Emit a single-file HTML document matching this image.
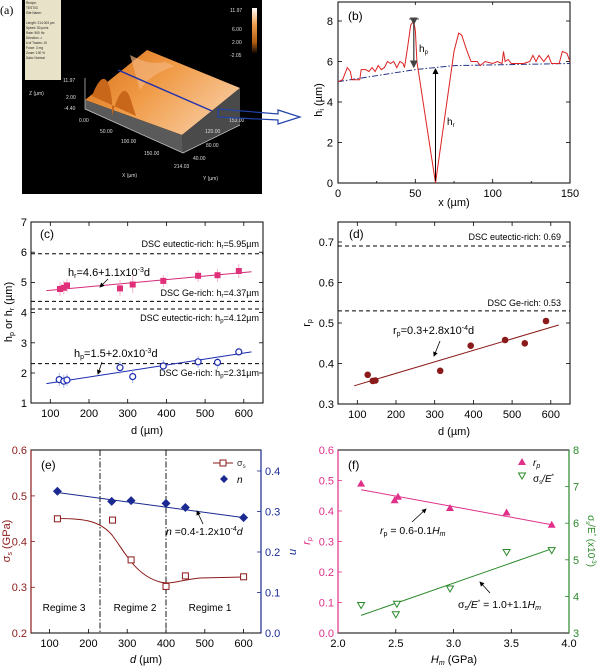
<!DOCTYPE html>
<html><head><meta charset="utf-8"><style>
body{margin:0;background:#fff}
svg{display:block;font-family:"Liberation Sans",sans-serif}
</style></head><body>
<svg width="600" height="668" viewBox="0 0 600 668" xmlns="http://www.w3.org/2000/svg">
<defs>
<linearGradient id="cb" x1="0" y1="0" x2="0" y2="1"><stop offset="0" stop-color="#fff"/><stop offset="0.35" stop-color="#f0a050"/><stop offset="0.75" stop-color="#b05a10"/><stop offset="1" stop-color="#000"/></linearGradient>
<linearGradient id="surf" x1="0" y1="0" x2="1" y2="0.6"><stop offset="0" stop-color="#d86e18"/><stop offset="0.5" stop-color="#f09a45"/><stop offset="1" stop-color="#f8c89a"/></linearGradient>
<marker id="ah" markerWidth="6" markerHeight="6" refX="5" refY="3" orient="auto"><path d="M0,0 L6,3 L0,6 z" fill="#000"/></marker>
<marker id="ahg" markerWidth="6" markerHeight="6" refX="5" refY="3" orient="auto"><path d="M0,0 L6,3 L0,6 z" fill="#444"/></marker>
</defs>

<!-- Panel a -->
<text x="0" y="14" font-family="Liberation Serif" font-size="12">(a)</text>
<rect x="22" y="0" width="240" height="194" fill="#000"/>
<rect x="25" y="0" width="36" height="80" fill="#e8e2c8"/>
<g font-size="3.2" fill="#222">
<text x="26" y="4">Recipe:</text><text x="26" y="9">TEST03</text><text x="26" y="14">Site Name:</text>
<text x="26" y="24">Length: 214.003 µm</text><text x="26" y="29">Speed: 50 µm/s</text><text x="26" y="34">Rate: 500 Hz</text>
<text x="26" y="39">Direction -&gt;</text><text x="26" y="44"># of Traces: 10</text><text x="26" y="49">Force: 3 mg</text>
<text x="26" y="54">Zoom: 100 %</text><text x="26" y="59">Data: Normal</text></g>
<rect x="252" y="8" width="5" height="46" fill="url(#cb)"/>
<g font-size="5" fill="#ddd"><text x="230" y="12">11.97</text><text x="232" y="31">6.00</text><text x="232" y="44">2.00</text><text x="230" y="57">-2.05</text></g>
<polygon points="85,100 147,50 240,88 182,135" fill="url(#surf)"/>
<polygon points="182,135 240,88 240,125 183,153" fill="#4a4a4a"/>
<polygon points="85,100 182,135 183,153 85,109" fill="#5a5a5a"/>
<path d="M92,96 C100,75 108,70 112,100 L112,116 C118,92 126,80 132,104 L136,116 Z" fill="#c8661a"/>
<path d="M130,55 C140,60 150,65 165,62 L175,66 C160,72 150,75 140,90 Z" fill="#f3b47a" opacity="0.7"/>
<line x1="118" y1="70" x2="212" y2="111" stroke="#2233aa" stroke-width="1.5"/>
<g stroke="#ccc" stroke-width="0.7" fill="none"><polyline points="85,78 85,109 183,153 240,125"/></g>
<g font-size="5" fill="#ddd">
<text x="63" y="82">11.97</text><text x="66" y="99">2.00</text><text x="64" y="110">-4.40</text>
<text x="29" y="95">Z (µm)</text><text x="79" y="122">0.00</text><text x="100" y="133">50.00</text>
<text x="121" y="143">100.00</text><text x="144" y="155">150.00</text><text x="174" y="168">214.03</text>
<text x="122" y="177">X (µm)</text><text x="203" y="180">Y (µm)</text>
<text x="229" y="122">153.00</text><text x="205" y="133">120.00</text><text x="206" y="147">80.00</text><text x="193" y="160">40.00</text></g>
<polygon points="218,109 278,114 278,110 300,117 278,124 278,120 218,117" fill="none" stroke="#2244aa" stroke-width="1.2"/>

<!-- Panel b -->
<rect x="338" y="2" width="232" height="181" fill="none" stroke="#000" stroke-width="1"/>
<g stroke="#000" stroke-width="0.8">
<line x1="338" y1="183" x2="338" y2="179"/><line x1="415.3" y1="183" x2="415.3" y2="179"/><line x1="492.7" y1="183" x2="492.7" y2="179"/><line x1="570" y1="183" x2="570" y2="179"/>
<line x1="376.7" y1="183" x2="376.7" y2="181"/><line x1="454" y1="183" x2="454" y2="181"/><line x1="531.3" y1="183" x2="531.3" y2="181"/>
<line x1="415.3" y1="2" x2="415.3" y2="5"/><line x1="492.7" y1="2" x2="492.7" y2="5"/>
<line x1="338" y1="142.5" x2="342" y2="142.5"/><line x1="338" y1="102" x2="342" y2="102"/><line x1="338" y1="61.5" x2="342" y2="61.5"/><line x1="338" y1="21" x2="342" y2="21"/>
<line x1="570" y1="142.5" x2="566" y2="142.5"/><line x1="570" y1="102" x2="566" y2="102"/><line x1="570" y1="61.5" x2="566" y2="61.5"/><line x1="570" y1="21" x2="566" y2="21"/>
</g>
<g font-size="11" text-anchor="middle"><text x="338" y="197">0</text><text x="415.3" y="197">50</text><text x="492.7" y="197">100</text><text x="570" y="197">150</text>
<text x="454" y="206">x (µm)</text></g>
<g font-size="11" text-anchor="end"><text x="333" y="187">0</text><text x="333" y="146.5">2</text><text x="333" y="106">4</text><text x="333" y="65.5">6</text><text x="333" y="25">8</text></g>
<text transform="translate(322,100) rotate(-90)" font-size="11" text-anchor="middle">h<tspan font-size="7" dy="2">i</tspan><tspan dy="-2"> (µm)</tspan></text>
<text x="348" y="20" font-size="12">(b)</text>
<polyline points="338,81.7 415.3,69.6 454,65.6 570,63.5" fill="none" stroke="#223388" stroke-width="1" stroke-dasharray="6,2,1.5,2"/>
<polyline fill="none" stroke="#dd2222" stroke-width="1" points="338,81.7 342.6,79.7 347.3,67.6 350.4,71.6 351.9,79.7 359.7,79.7 361.2,69.6 365.8,69.6 368.9,71.6 372,67.6 375.1,71.6 378.2,65.6 381.3,69.6 384.4,67.6 387.5,61.5 390.6,63.5 393.7,61.5 396.8,67.6 399.9,61.5 403,63.5 404.5,67.6 407.6,47.3 410.7,25.1 413.8,21 415.4,31.1 416.9,61.5 435.5,183 454,51.4 458.7,33.1 461.8,35.2 466.4,49.4 471,61.5 477.2,61.5 480.3,65.6 485,61.5 492.7,63.5 497.3,61.5 502,63.5 503.5,51.4 505.1,61.5 508.2,59.5 511.3,63.5 523.6,63.5 529.8,61.5 532.9,55.4 536,61.5 539.1,55.4 543.8,61.5 548.4,55.4 551.5,63.5 559.2,63.5 562.3,51.4 567,53.4 570,61.5"/>
<line x1="409" y1="19" x2="419" y2="19" stroke="#555" stroke-width="1"/>
<line x1="413.8" y1="24" x2="413.8" y2="67" stroke="#444" stroke-width="1.3" marker-start="url(#ahg)" marker-end="url(#ahg)"/>
<line x1="435.5" y1="181" x2="435.5" y2="69" stroke="#000" stroke-width="1" marker-end="url(#ah)"/>
<text x="419" y="52" font-size="10">h<tspan font-size="6" dy="2">p</tspan></text>
<text x="447" y="125" font-size="10">h<tspan font-size="6" dy="2">r</tspan></text>

<!-- Panel c -->
<rect x="31" y="222" width="232" height="181" fill="none" stroke="#000" stroke-width="1"/>
<g stroke="#000" stroke-width="0.8">
<line x1="50.3" y1="403" x2="50.3" y2="399"/><line x1="89" y1="403" x2="89" y2="399"/><line x1="127.7" y1="403" x2="127.7" y2="399"/><line x1="166.4" y1="403" x2="166.4" y2="399"/><line x1="205.1" y1="403" x2="205.1" y2="399"/><line x1="243.8" y1="403" x2="243.8" y2="399"/>
<line x1="50.3" y1="222" x2="50.3" y2="226"/><line x1="89" y1="222" x2="89" y2="226"/><line x1="127.7" y1="222" x2="127.7" y2="226"/><line x1="166.4" y1="222" x2="166.4" y2="226"/><line x1="205.1" y1="222" x2="205.1" y2="226"/><line x1="243.8" y1="222" x2="243.8" y2="226"/>
<line x1="31" y1="252.2" x2="35" y2="252.2"/><line x1="31" y1="282.4" x2="35" y2="282.4"/><line x1="31" y1="312.6" x2="35" y2="312.6"/><line x1="31" y1="342.8" x2="35" y2="342.8"/><line x1="31" y1="373" x2="35" y2="373"/>
<line x1="263" y1="252.2" x2="259" y2="252.2"/><line x1="263" y1="282.4" x2="259" y2="282.4"/><line x1="263" y1="312.6" x2="259" y2="312.6"/><line x1="263" y1="342.8" x2="259" y2="342.8"/><line x1="263" y1="373" x2="259" y2="373"/>
</g>
<g font-size="11" text-anchor="middle"><text x="50.3" y="417">100</text><text x="89" y="417">200</text><text x="127.7" y="417">300</text><text x="166.4" y="417">400</text><text x="205.1" y="417">500</text><text x="243.8" y="417">600</text>
<text x="147" y="434">d (µm)</text></g>
<g font-size="11" text-anchor="end"><text x="27" y="226">7</text><text x="27" y="256">6</text><text x="27" y="286">5</text><text x="27" y="316.5">4</text><text x="27" y="347">3</text><text x="27" y="377">2</text><text x="27" y="407">1</text></g>
<text transform="translate(12,312) rotate(-90)" font-size="11" text-anchor="middle">h<tspan font-size="7" dy="2">p</tspan><tspan dy="-2"> or h</tspan><tspan font-size="7" dy="2">r</tspan><tspan dy="-2"> (µm)</tspan></text>
<text x="40" y="238" font-size="12">(c)</text>
<g stroke="#000" stroke-width="1" stroke-dasharray="4,3">
<line x1="31" y1="253.7" x2="263" y2="253.7"/><line x1="31" y1="301.4" x2="263" y2="301.4"/><line x1="31" y1="309" x2="263" y2="309"/><line x1="31" y1="363.6" x2="263" y2="363.6"/></g>
<g font-size="9" text-anchor="end">
<text x="259" y="247">DSC eutectic-rich: h<tspan font-size="6" dy="1.5">r</tspan><tspan dy="-1.5">=5.95µm</tspan></text>
<text x="259" y="296">DSC Ge-rich: h<tspan font-size="6" dy="1.5">r</tspan><tspan dy="-1.5">=4.37µm</tspan></text>
<text x="259" y="321">DSC eutectic-rich: h<tspan font-size="6" dy="1.5">p</tspan><tspan dy="-1.5">=4.12µm</tspan></text>
<text x="259" y="376">DSC Ge-rich: h<tspan font-size="6" dy="1.5">p</tspan><tspan dy="-1.5">=2.31µm</tspan></text></g>
<line x1="46.4" y1="290.6" x2="251.5" y2="271.8" stroke="#d42a7a" stroke-width="1"/>
<line x1="46.4" y1="383.6" x2="251.5" y2="351.9" stroke="#1a2ab0" stroke-width="1"/>
<g stroke="#f0a0c0" stroke-width="0.8">
<line x1="60" y1="282" x2="60" y2="296"/><line x1="63.8" y1="281" x2="63.8" y2="294"/><line x1="67" y1="279" x2="67" y2="292"/><line x1="120" y1="280" x2="120" y2="296"/><line x1="132.7" y1="276" x2="132.7" y2="293"/><line x1="163.3" y1="275" x2="163.3" y2="287"/><line x1="198.1" y1="270" x2="198.1" y2="282"/><line x1="217.5" y1="269" x2="217.5" y2="282"/><line x1="238.8" y1="264" x2="238.8" y2="278"/></g>
<g fill="#e0307a">
<rect x="57" y="286" width="6" height="6"/><rect x="60.8" y="284.8" width="6" height="6"/><rect x="64" y="282.4" width="6" height="6"/><rect x="117" y="285.4" width="6" height="6"/><rect x="129.7" y="281.5" width="6" height="6"/><rect x="160.3" y="277.9" width="6" height="6"/><rect x="195.1" y="272.8" width="6" height="6"/><rect x="214.5" y="272.2" width="6" height="6"/><rect x="235.8" y="268" width="6" height="6"/></g>
<g stroke="#9aa8dd" stroke-width="0.8">
<line x1="59.2" y1="373" x2="59.2" y2="386"/><line x1="63.8" y1="375" x2="63.8" y2="388"/><line x1="67" y1="374" x2="67" y2="386"/><line x1="120" y1="361" x2="120" y2="374"/><line x1="132.7" y1="370" x2="132.7" y2="383"/><line x1="163.3" y1="360" x2="163.3" y2="372"/><line x1="198.1" y1="356" x2="198.1" y2="368"/><line x1="217.5" y1="356" x2="217.5" y2="369"/></g>
<g fill="#fff" stroke="#1a2ab0" stroke-width="1.2">
<circle cx="59.2" cy="379.6" r="3"/><circle cx="63.8" cy="381.2" r="3"/><circle cx="67" cy="380" r="3"/><circle cx="120" cy="367.6" r="3"/><circle cx="132.7" cy="376.6" r="3"/><circle cx="163.3" cy="366" r="3"/><circle cx="198.1" cy="361.8" r="3"/><circle cx="217.5" cy="362.4" r="3"/><circle cx="238.8" cy="351.9" r="3"/></g>
<text x="68" y="276" font-size="11">h<tspan font-size="7" dy="2">r</tspan><tspan dy="-2">=4.6+1.1x10</tspan><tspan font-size="7" dy="-4">-3</tspan><tspan dy="4">d</tspan></text>
<line x1="108" y1="279" x2="100" y2="287" stroke="#000" stroke-width="0.8" marker-end="url(#ah)"/>
<text x="74" y="357" font-size="11">h<tspan font-size="7" dy="2">p</tspan><tspan dy="-2">=1.5+2.0x10</tspan><tspan font-size="7" dy="-4">-3</tspan><tspan dy="4">d</tspan></text>
<line x1="102" y1="362" x2="98" y2="374" stroke="#000" stroke-width="0.8" marker-end="url(#ah)"/>

<!-- Panel d -->
<rect x="338" y="222" width="232" height="182" fill="none" stroke="#000" stroke-width="1"/>
<g stroke="#000" stroke-width="0.8">
<line x1="357.3" y1="404" x2="357.3" y2="400"/><line x1="396" y1="404" x2="396" y2="400"/><line x1="434.7" y1="404" x2="434.7" y2="400"/><line x1="473.4" y1="404" x2="473.4" y2="400"/><line x1="512.1" y1="404" x2="512.1" y2="400"/><line x1="550.8" y1="404" x2="550.8" y2="400"/>
<line x1="357.3" y1="222" x2="357.3" y2="226"/><line x1="396" y1="222" x2="396" y2="226"/><line x1="434.7" y1="222" x2="434.7" y2="226"/><line x1="473.4" y1="222" x2="473.4" y2="226"/><line x1="512.1" y1="222" x2="512.1" y2="226"/><line x1="550.8" y1="222" x2="550.8" y2="226"/>
<line x1="338" y1="363.5" x2="342" y2="363.5"/><line x1="338" y1="323" x2="342" y2="323"/><line x1="338" y1="282.5" x2="342" y2="282.5"/><line x1="338" y1="242" x2="342" y2="242"/>
<line x1="570" y1="363.5" x2="566" y2="363.5"/><line x1="570" y1="323" x2="566" y2="323"/><line x1="570" y1="282.5" x2="566" y2="282.5"/><line x1="570" y1="242" x2="566" y2="242"/>
</g>
<g font-size="11" text-anchor="middle"><text x="357.3" y="418">100</text><text x="396" y="418">200</text><text x="434.7" y="418">300</text><text x="473.4" y="418">400</text><text x="512.1" y="418">500</text><text x="550.8" y="418">600</text>
<text x="454" y="435">d (µm)</text></g>
<g font-size="11" text-anchor="end"><text x="334" y="408">0.3</text><text x="334" y="367.5">0.4</text><text x="334" y="327">0.5</text><text x="334" y="286.5">0.6</text><text x="334" y="246">0.7</text></g>
<text transform="translate(310,323) rotate(-90)" font-size="11" text-anchor="middle">r<tspan font-size="7" dy="2">p</tspan></text>
<text x="349" y="238" font-size="12">(d)</text>
<g stroke="#000" stroke-width="1" stroke-dasharray="4,3"><line x1="338" y1="246" x2="570" y2="246"/><line x1="338" y1="310.9" x2="570" y2="310.9"/></g>
<g font-size="9" text-anchor="end"><text x="561" y="240">DSC eutectic-rich: 0.69</text><text x="561" y="306">DSC Ge-rich: 0.53</text></g>
<line x1="354.1" y1="385.8" x2="558.7" y2="325" stroke="#8b1a1a" stroke-width="1"/>
<g fill="#8b1a1a">
<circle cx="367.7" cy="374.8" r="3.3"/><circle cx="372.7" cy="380.9" r="3.3"/><circle cx="375.4" cy="380.5" r="3.3"/><circle cx="440.2" cy="370.8" r="3.3"/><circle cx="470.7" cy="345.7" r="3.3"/><circle cx="505.1" cy="340" r="3.3"/><circle cx="524.8" cy="343.3" r="3.3"/><circle cx="546" cy="321" r="3.3"/></g>
<text x="393" y="334" font-size="11">r<tspan font-size="7" dy="2">p</tspan><tspan dy="-2">=0.3+2.8x10</tspan><tspan font-size="7" dy="-4">-4</tspan><tspan dy="4">d</tspan></text>
<line x1="440" y1="341" x2="434" y2="356" stroke="#000" stroke-width="0.8" marker-end="url(#ah)"/>

<!-- Panel e -->
<rect x="31" y="450" width="230" height="183" fill="none" stroke="#000" stroke-width="1"/>
<line x1="31" y1="450" x2="31" y2="633" stroke="#8b1a1a" stroke-width="1.2"/>
<line x1="261" y1="450" x2="261" y2="633" stroke="#1a2a90" stroke-width="1.2"/>
<g stroke="#000" stroke-width="0.8">
<line x1="49.6" y1="633" x2="49.6" y2="629"/><line x1="88.4" y1="633" x2="88.4" y2="629"/><line x1="127.2" y1="633" x2="127.2" y2="629"/><line x1="166" y1="633" x2="166" y2="629"/><line x1="204.8" y1="633" x2="204.8" y2="629"/><line x1="243.6" y1="633" x2="243.6" y2="629"/></g>
<g stroke="#8b1a1a" stroke-width="0.8"><line x1="31" y1="587.3" x2="35" y2="587.3"/><line x1="31" y1="541.6" x2="35" y2="541.6"/><line x1="31" y1="495.9" x2="35" y2="495.9"/></g>
<g stroke="#1a2a90" stroke-width="0.8"><line x1="261" y1="592.5" x2="257" y2="592.5"/><line x1="261" y1="552" x2="257" y2="552"/><line x1="261" y1="511.5" x2="257" y2="511.5"/><line x1="261" y1="471" x2="257" y2="471"/></g>
<g font-size="11" text-anchor="middle"><text x="49.6" y="647">100</text><text x="88.4" y="647">200</text><text x="127.2" y="647">300</text><text x="166" y="647">400</text><text x="204.8" y="647">500</text><text x="243.6" y="647">600</text>
<text x="146" y="663"><tspan font-style="italic">d</tspan> (µm)</text></g>
<g font-size="11" text-anchor="end" fill="#8b1a1a"><text x="27" y="637">0.2</text><text x="27" y="591">0.3</text><text x="27" y="545.5">0.4</text><text x="27" y="500">0.5</text><text x="27" y="454">0.6</text></g>
<g font-size="11" fill="#1a2a90"><text x="265" y="637">0.0</text><text x="265" y="596.5">0.1</text><text x="265" y="556">0.2</text><text x="265" y="515.5">0.3</text><text x="265" y="475">0.4</text></g>
<text transform="translate(10,541) rotate(-90)" font-size="11" text-anchor="middle" fill="#8b1a1a">σ<tspan font-size="7" dy="2">s</tspan><tspan dy="-2"> (GPa)</tspan></text>
<text transform="translate(290,552) rotate(90)" font-size="11" text-anchor="middle" fill="#1a2a90" font-style="italic">n</text>
<text x="41" y="469" font-size="12">(e)</text>
<g stroke="#000" stroke-width="0.9" stroke-dasharray="6,2,1.5,2"><line x1="100" y1="450" x2="100" y2="633"/><line x1="166" y1="450" x2="166" y2="633"/></g>
<g font-size="10" text-anchor="middle"><text x="64" y="611">Regime 3</text><text x="135" y="611">Regime 2</text><text x="210" y="611">Regime 1</text></g>
<path d="M57.4,518.5 C85,518.5 100,521 112,535 C125,552 135,575 160,582 C170,585 180,580 200,578 L243.6,577" fill="none" stroke="#8b1a1a" stroke-width="1"/>
<g fill="#fff" stroke="#8b1a1a" stroke-width="1"><rect x="54.4" y="515.8" width="6" height="6"/><rect x="109.5" y="517.1" width="6" height="6"/><rect x="128.1" y="556.9" width="6" height="6"/><rect x="163" y="583.4" width="6" height="6"/><rect x="182.4" y="572.9" width="6" height="6"/><rect x="240.6" y="573.8" width="6" height="6"/></g>
<line x1="57.4" y1="492.5" x2="243.6" y2="517.6" stroke="#1a2a90" stroke-width="1"/>
<g fill="#1a2a90"><path d="M57.4,486.8 l4.5,4.5 l-4.5,4.5 l-4.5,-4.5z"/><path d="M111.7,496.9 l4.5,4.5 l-4.5,4.5 l-4.5,-4.5z"/><path d="M131.1,496.1 l4.5,4.5 l-4.5,4.5 l-4.5,-4.5z"/><path d="M166,498.9 l4.5,4.5 l-4.5,4.5 l-4.5,-4.5z"/><path d="M185.4,503 l4.5,4.5 l-4.5,4.5 l-4.5,-4.5z"/><path d="M243.6,513.1 l4.5,4.5 l-4.5,4.5 l-4.5,-4.5z"/></g>
<line x1="213" y1="463" x2="233" y2="463" stroke="#8b1a1a" stroke-width="1"/><rect x="220" y="460" width="6" height="6" fill="#fff" stroke="#8b1a1a"/>
<text x="237" y="466" font-size="9" fill="#333">σ<tspan font-size="6" dy="2">s</tspan></text>
<path d="M224,475 l4,4 l-4,4 l-4,-4z" fill="#1a2a90"/><text x="237" y="483" font-size="10" font-style="italic">n</text>
<text x="166" y="535" font-size="10.5"><tspan font-style="italic">n</tspan> =0.4-1.2x10<tspan font-size="7" dy="-4">-4</tspan><tspan dy="4" font-style="italic">d</tspan></text>
<line x1="203" y1="524" x2="197" y2="511" stroke="#000" stroke-width="0.8" marker-end="url(#ah)"/>

<!-- Panel f -->
<rect x="338" y="450" width="231" height="183" fill="none" stroke="#000" stroke-width="1"/>
<line x1="338" y1="450" x2="338" y2="633" stroke="#e0308a" stroke-width="1.2"/>
<line x1="569" y1="450" x2="569" y2="633" stroke="#2a8a2a" stroke-width="1.2"/>
<g stroke="#000" stroke-width="0.8"><line x1="395.8" y1="633" x2="395.8" y2="629"/><line x1="453.5" y1="633" x2="453.5" y2="629"/><line x1="511.3" y1="633" x2="511.3" y2="629"/></g>
<g stroke="#e0308a" stroke-width="0.8"><line x1="338" y1="602.5" x2="342" y2="602.5"/><line x1="338" y1="572" x2="342" y2="572"/><line x1="338" y1="541.5" x2="342" y2="541.5"/><line x1="338" y1="511" x2="342" y2="511"/><line x1="338" y1="480.5" x2="342" y2="480.5"/></g>
<g stroke="#2a8a2a" stroke-width="0.8"><line x1="569" y1="596.4" x2="565" y2="596.4"/><line x1="569" y1="559.8" x2="565" y2="559.8"/><line x1="569" y1="523.2" x2="565" y2="523.2"/><line x1="569" y1="486.6" x2="565" y2="486.6"/></g>
<g font-size="11" text-anchor="middle"><text x="338" y="647">2.0</text><text x="395.8" y="647">2.5</text><text x="453.5" y="647">3.0</text><text x="511.3" y="647">3.5</text><text x="569" y="647">4.0</text>
<text x="454" y="663"><tspan font-style="italic">H</tspan><tspan font-size="7" dy="2" font-style="italic">m</tspan><tspan dy="-2"> (GPa)</tspan></text></g>
<g font-size="11" text-anchor="end" fill="#e0308a"><text x="334" y="637">0.0</text><text x="334" y="606.5">0.1</text><text x="334" y="576">0.2</text><text x="334" y="545.5">0.3</text><text x="334" y="515">0.4</text><text x="334" y="484.5">0.5</text><text x="334" y="454">0.6</text></g>
<g font-size="11" fill="#2a8a2a"><text x="573" y="637">3</text><text x="573" y="600.4">4</text><text x="573" y="563.8">5</text><text x="573" y="527.2">6</text><text x="573" y="490.6">7</text><text x="573" y="454">8</text></g>
<text transform="translate(310,541) rotate(-90)" font-size="11" text-anchor="middle" fill="#e0308a" font-style="italic">r<tspan font-size="7" dy="2">p</tspan></text>
<text transform="translate(588,541) rotate(90)" font-size="10" text-anchor="middle" fill="#2a8a2a">σ<tspan font-size="6" dy="2">s</tspan><tspan dy="-2">/E</tspan><tspan font-size="6" dy="-4">*</tspan><tspan dy="4"> (x10</tspan><tspan font-size="6" dy="-4">-3</tspan><tspan dy="4">)</tspan></text>
<text x="348" y="469" font-size="12">(f)</text>
<line x1="361.1" y1="489.7" x2="551.7" y2="524.7" stroke="#e0308a" stroke-width="1"/>
<line x1="361.1" y1="615.4" x2="551.7" y2="548.8" stroke="#2a8a2a" stroke-width="1"/>
<g fill="#e0308a"><path d="M361.1,479.6 l4,7 h-8z"/><path d="M394.6,496.3 l4,7 h-8z"/><path d="M398,492.7 l4,7 h-8z"/><path d="M450,504 l4,7 h-8z"/><path d="M506.6,508.5 l4,7 h-8z"/><path d="M551.7,520.7 l4,7 h-8z"/><path d="M522,458 l4,7 h-8z"/></g>
<g fill="#fff" stroke="#2a8a2a" stroke-width="1"><path d="M357.6,602.5 h7 l-3.5,6z"/><path d="M392.3,611.7 h7 l-3.5,6z"/><path d="M393.4,601.3 h7 l-3.5,6z"/><path d="M446.5,586 h7 l-3.5,6z"/><path d="M503.1,549.5 h7 l-3.5,6z"/><path d="M548.2,547.6 h7 l-3.5,6z"/><path d="M518.5,473 h7 l-3.5,6z"/></g>
<text x="533" y="466" font-size="10" font-style="italic">r<tspan font-size="7" dy="2">p</tspan></text>
<text x="533" y="482" font-size="10">σ<tspan font-size="6" dy="2">s</tspan><tspan dy="-2" font-style="italic">/E</tspan><tspan font-size="6" dy="-4">*</tspan></text>
<text x="380" y="534" font-size="10.5"><tspan font-style="italic">r</tspan><tspan font-size="7" dy="2">p</tspan><tspan dy="-2"> = 0.6-0.1</tspan><tspan font-style="italic">H</tspan><tspan font-size="7" dy="2" font-style="italic">m</tspan></text>
<line x1="412" y1="522" x2="426" y2="509" stroke="#000" stroke-width="0.8" marker-end="url(#ah)"/>
<text x="458" y="608" font-size="10.5">σ<tspan font-size="7" dy="2">s</tspan><tspan dy="-2" font-style="italic">/E</tspan><tspan font-size="6" dy="-4">*</tspan><tspan dy="4"> = 1.0+1.1</tspan><tspan font-style="italic">H</tspan><tspan font-size="7" dy="2" font-style="italic">m</tspan></text>
<line x1="490" y1="593" x2="480" y2="582" stroke="#000" stroke-width="0.8" marker-end="url(#ah)"/>
</svg>
</body></html>
